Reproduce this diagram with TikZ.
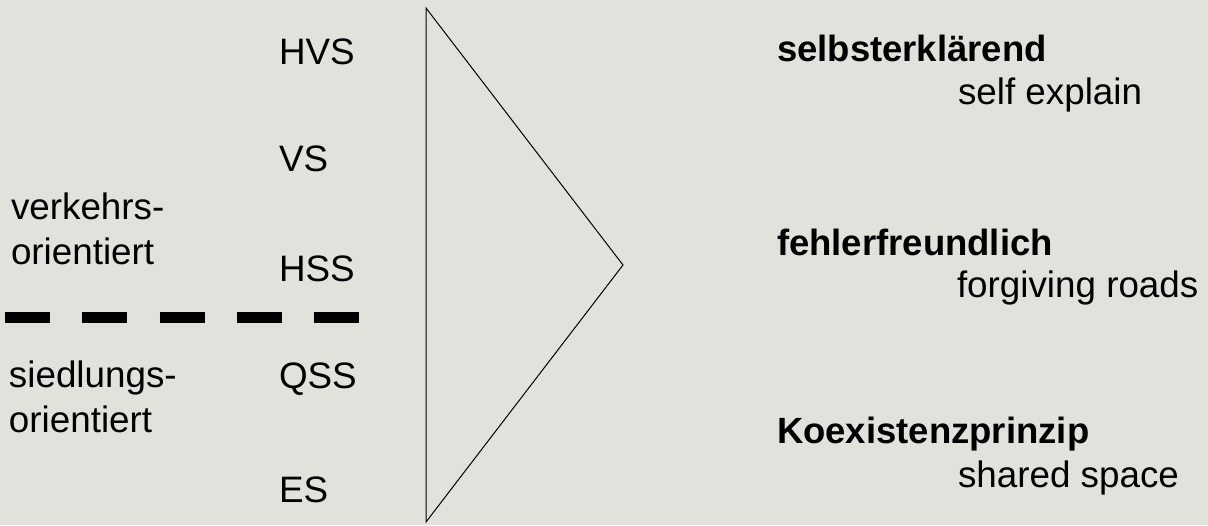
\documentclass[tikz,border=0pt]{standalone}
\usepackage{fontspec}
\setmainfont{Liberation Sans}
\definecolor{bg}{RGB}{226,226,221}
\tikzset{
  lbl/.style={anchor=base west, inner sep=0pt, outer sep=0pt, font=\fontsize{36.8}{40}\selectfont, text=black},
  blbl/.style={lbl, font=\fontsize{36.5}{40}\selectfont\bfseries},
  tri/.style={draw=black, line width=1pt, line join=miter},
  sep/.style={draw=black, line width=11pt, dash pattern=on 45pt off 32.25pt}
}
\begin{document}
\begin{tikzpicture}[x=1pt, y=-1pt]
  \fill[bg] (0,0) rectangle (1208,525);
  \useasboundingbox (0,0) rectangle (1208,525);
  % triangle
  \draw[tri] (426,8) -- (623,265) -- (426,522) -- cycle;
  % separator
  \draw[sep] (5,317.5) -- (359.5,317.5);
  % road categories
  \node[lbl] (hvs) at (279,64) {HVS};
  \node[lbl] (vs)  at (279,171) {VS};
  \node[lbl] (hss) at (279,281) {HSS};
  \node[lbl] (qss) at (279,388) {QSS};
  \node[lbl] (es)  at (279,502) {ES};
  % left labels
  \node[lbl] (v1) at (11,219) {verkehrs-};
  \node[lbl] (v2) at (11,264) {orientiert};
  \node[lbl] (s1) at (9,387) {siedlungs-};
  \node[lbl] (s2) at (9,432) {orientiert};
  % right labels
  \node[blbl] (sel) at (777,61) {selbsterklärend};
  \node[lbl] (sele) at (958,104) {self explain};
  \node[blbl] (feh) at (777,255) {fehlerfreundlich};
  \node[lbl] (fehe) at (957,297) {forgiving roads};
  \node[blbl] (koe) at (777,443) {Koexistenzprinzip};
  \node[lbl] (koee) at (958,487) {shared space};
\end{tikzpicture}
\end{document}
